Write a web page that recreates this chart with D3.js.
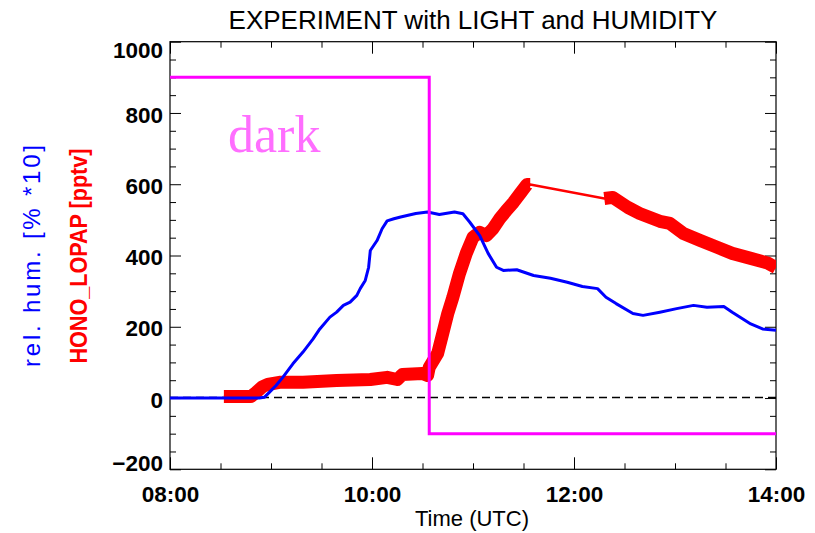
<!DOCTYPE html>
<html>
<head>
<meta charset="utf-8">
<script src="https://cdn.jsdelivr.net/npm/d3@7"></script>
<style>
  html, body { margin: 0; padding: 0; background: #fff; }
  svg { display: block; }
</style>
</head>
<body>
<svg id="chart" width="815" height="533"></svg>
<script>
// Relative humidity, plotted as % * 10 (blue trace)
const humTimes = ["08:00","08:53","08:56","08:59","09:03","09:07","09:13","09:19","09:25","09:29",
  "09:35","09:39","09:43","09:47","09:51","09:53","09:56","09:58","09:59","10:03","10:06","10:09",
  "10:13","10:17","10:26","10:33","10:40","10:49","10:54","10:58","11:04","11:09","11:14","11:18",
  "11:26","11:36","11:46","11:56","12:05","12:14","12:19","12:25","12:35","12:41","12:51","13:01",
  "13:11","13:19","13:29","13:34","13:45","13:52","14:00"];
const humValues = [0,0,2,16,35,58,96,129,166,194,
  227,241,260,269,288,307,330,367,414,442,475,497,
  503,508,518,522,515,522,517,494,456,406,367,358,
  360,344,336,325,313,307,283,265,237,232,241,251,
  260,255,257,241,208,194,190];

// HONO mixing ratio from the LOPAP instrument, pptv (red trace)
const honoTimes = ["08:32","08:48","08:51","08:55","08:58","09:05","09:19","09:39","09:59","10:09",
  "10:15","10:18","10:30","10:33","10:34","10:39","10:42","10:45","10:48","10:52","10:56","11:00",
  "11:04","11:08","11:12","11:16","11:20","11:24","11:28","11:32","11:34",
  "12:18","12:23","12:32","12:39","12:51","12:57","13:05","13:15","13:25","13:34","13:45","13:55","14:00"];
const honoValues = [4,4,15,32,38,44,44,49,52,58,
  52,66,69,63,86,125,181,237,282,350,406,451,
  465,456,476,504,527,549,574,599,599,
  560,563,535,518,496,490,462,442,423,406,392,379,366];

// Lamp state: dark period, then light switched on
const lightTimes = ["08:00","10:34","10:34","14:00"];
const lightValues = [900, 900, -100, -100];

// Axis tick labels
const xTickLabels = ["08:00","10:00","12:00","14:00"];
const yTickLabels = [-200, 0, 200, 400, 600, 800, 1000];

const parse = d3.timeParse("%H:%M");
const W = 815, H = 533;
const box = { left: 170, right: 776, top: 41.7, bottom: 469.3 };

const x = d3.scaleTime()
  .domain([parse(xTickLabels[0]), parse(xTickLabels[xTickLabels.length - 1])])
  .range([box.left, box.right]);
const y = d3.scaleLinear()
  .domain([yTickLabels[0], yTickLabels[yTickLabels.length - 1]])
  .range([box.bottom, box.top]);

const svg = d3.select("#chart");
svg.append("rect").attr("width", W).attr("height", H).attr("fill", "#fff");

svg.append("defs").append("clipPath").attr("id", "plotClip")
  .append("rect")
  .attr("x", box.left).attr("y", box.top)
  .attr("width", box.right - box.left).attr("height", box.bottom - box.top);

const majorX = xTickLabels.map(parse);
const minorX = x.ticks(d3.timeMinute.every(30)).filter(d => d.getMinutes() !== 0 || d.getHours() % 2 !== 0);
const majorY = yTickLabels;
const minorY = d3.range(-200, 1001, 50).filter(v => v % 200 !== 0);

const labelFont = "'Liberation Sans', Arial, Helvetica, sans-serif";

function styleAxis(g) {
  g.select(".domain").remove();
  g.attr("font-family", labelFont).attr("font-size", 22.5).attr("font-weight", "bold");
  g.selectAll(".tick line").attr("stroke", "#000").attr("stroke-width", 1);
  g.selectAll(".tick text").attr("fill", "#000");
}

// Bottom axis
svg.append("g").attr("transform", `translate(0,${box.bottom})`)
  .call(d3.axisBottom(x).tickValues(majorX).tickSizeInner(-12).tickSizeOuter(0)
    .tickPadding(17).tickFormat(d3.timeFormat("%H:%M")))
  .call(styleAxis);
svg.append("g").attr("transform", `translate(0,${box.bottom})`)
  .call(d3.axisBottom(x).tickValues(minorX).tickSizeInner(-6).tickSizeOuter(0).tickFormat(""))
  .call(styleAxis);

// Top axis (ticks only)
svg.append("g").attr("transform", `translate(0,${box.top})`)
  .call(d3.axisTop(x).tickValues(majorX).tickSizeInner(-12).tickSizeOuter(0).tickFormat(""))
  .call(styleAxis);
svg.append("g").attr("transform", `translate(0,${box.top})`)
  .call(d3.axisTop(x).tickValues(minorX).tickSizeInner(-6).tickSizeOuter(0).tickFormat(""))
  .call(styleAxis);

// Left axis
const leftAxis = svg.append("g").attr("transform", `translate(${box.left},0)`)
  .call(d3.axisLeft(y).tickValues(majorY).tickSizeInner(-11).tickSizeOuter(0)
    .tickPadding(7).tickFormat(d3.format("d")))
  .call(styleAxis);
leftAxis.selectAll(".tick text")
  .text(d => d < 0 ? "\u2212" + Math.abs(d) : String(d))
  .attr("dy", d => d === majorY[majorY.length - 1] ? 15.3 : (d === majorY[0] ? 0.7 : 9.2));
svg.append("g").attr("transform", `translate(${box.left},0)`)
  .call(d3.axisLeft(y).tickValues(minorY).tickSizeInner(-6).tickSizeOuter(0).tickFormat(""))
  .call(styleAxis);

// Right axis (ticks only)
svg.append("g").attr("transform", `translate(${box.right},0)`)
  .call(d3.axisRight(y).tickValues(majorY).tickSizeInner(-11).tickSizeOuter(0).tickFormat(""))
  .call(styleAxis);
svg.append("g").attr("transform", `translate(${box.right},0)`)
  .call(d3.axisRight(y).tickValues(minorY).tickSizeInner(-6).tickSizeOuter(0).tickFormat(""))
  .call(styleAxis);

// Frame
svg.append("rect")
  .attr("x", box.left).attr("y", box.top)
  .attr("width", box.right - box.left).attr("height", box.bottom - box.top)
  .attr("fill", "none").attr("stroke", "#000").attr("stroke-width", 1.2);

const plot = svg.append("g").attr("clip-path", "url(#plotClip)");

// Zero reference
plot.append("line")
  .attr("x1", box.left).attr("x2", box.right)
  .attr("y1", Math.round(y(0)) - 0.5).attr("y2", Math.round(y(0)) - 0.5)
  .attr("stroke", "#000").attr("stroke-width", 1.3)
  .attr("stroke-dasharray", "8,5");

// HONO: thin connecting line through all samples, heavy markers where sampling is continuous
const hono = honoTimes.map((t, i) => ({ t: parse(t), v: honoValues[i] }));
const line = d3.line().x(d => x(d.t)).y(d => y(d.v));

plot.append("path").datum(hono)
  .attr("d", line)
  .attr("fill", "none").attr("stroke", "#ff0000").attr("stroke-width", 2.6);

const segments = [];
hono.forEach((d, i) => {
  if (i === 0 || (d.t - hono[i - 1].t) > 20 * 60000) segments.push([]);
  segments[segments.length - 1].push(d);
});
plot.selectAll("path.hono-seg").data(segments).join("path")
  .attr("class", "hono-seg")
  .attr("d", line)
  .attr("fill", "none").attr("stroke", "#ff0000")
  .attr("stroke-width", 13).attr("stroke-linejoin", "round").attr("stroke-linecap", "butt");

// Relative humidity
const hum = humTimes.map((t, i) => ({ t: parse(t), v: humValues[i] }));
plot.append("path").datum(hum)
  .attr("d", line)
  .attr("fill", "none").attr("stroke", "#0000ff").attr("stroke-width", 3)
  .attr("stroke-linejoin", "round");

// Light on/off
const light = lightTimes.map((t, i) => ({ t: parse(t), v: lightValues[i] }));
plot.append("path").datum(light)
  .attr("d", line)
  .attr("fill", "none").attr("stroke", "#ff00ff").attr("stroke-width", 3);

svg.append("text")
  .attr("x", 228).attr("y", 151.7)
  .attr("font-family", "'Liberation Serif', 'Times New Roman', serif")
  .attr("font-size", 52).attr("fill", "#ff6eff")
  .text("dark");

// Title
svg.append("text")
  .attr("x", (box.left + box.right) / 2).attr("y", 29)
  .attr("text-anchor", "middle")
  .attr("font-family", labelFont).attr("font-size", 26)
  .attr("fill", "#000")
  .text("EXPERIMENT with LIGHT and HUMIDITY");

// X axis title
svg.append("text")
  .attr("x", 472).attr("y", 525.5)
  .attr("text-anchor", "middle")
  .attr("font-family", labelFont).attr("font-size", 22)
  .attr("fill", "#000")
  .text("Time (UTC)");

// Y axis titles
svg.append("text")
  .attr("transform", "translate(40,256) rotate(-90)")
  .attr("text-anchor", "middle")
  .attr("font-family", labelFont).attr("font-size", 24)
  .attr("fill", "#0000ff")
  .attr("textLength", 222).attr("lengthAdjust", "spacing")
  .text("rel. hum. [% *10]");

svg.append("text")
  .attr("transform", "translate(87,256) rotate(-90)")
  .attr("text-anchor", "middle")
  .attr("font-family", labelFont).attr("font-size", 23).attr("font-weight", "bold")
  .attr("fill", "#ff0000")
  .attr("textLength", 215).attr("lengthAdjust", "spacingAndGlyphs")
  .text("HONO_LOPAP [pptv]");
</script>
</body>
</html>
